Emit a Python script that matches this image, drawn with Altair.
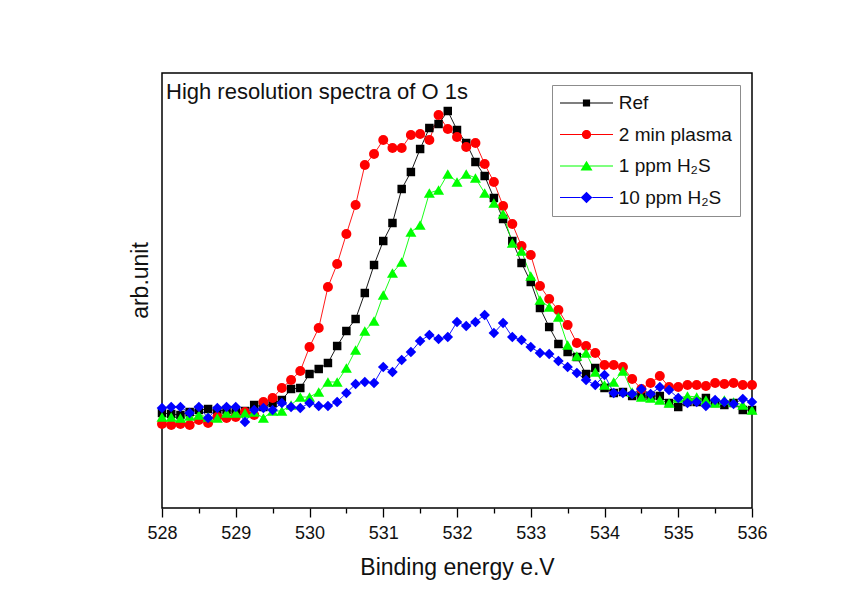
import altair as alt
import pandas as pd

# Binding energy grid (0.125 eV steps, 528-536 eV)
energy = [528 + 0.125 * i for i in range(65)]

ref = [95, 94, 93, 96, 98, 99, 97, 98, 96, 97,
       103, 101, 105, 108, 119, 120, 134, 139, 145, 162,
       177, 189, 215, 243, 267, 285, 319, 336, 359, 380,
       384, 397, 378, 365, 346, 332, 310, 289, 267, 245,
       226, 200, 181, 164, 156, 151, 134, 140, 120, 115,
       116, 112, 112, 112, 112, 105, 101, 106, 106, 110,
       105, 103, 105, 98, 98]

plasma = [84, 83, 84, 83, 88, 85, 91, 90, 91, 96,
          93, 106, 110, 120, 128, 137, 161, 180, 221, 244,
          274, 303, 343, 354, 368, 360, 360, 373, 374, 368,
          393, 379, 371, 361, 365, 344, 326, 302, 284, 262,
          253, 222, 209, 198, 183, 165, 162, 155, 143, 143,
          141, 129, 119, 125, 132, 121, 121, 123, 123, 122,
          125, 124, 125, 123, 123]

h2s_1ppm = [91, 91, 90, 92, 93, 91, 90, 95, 95, 95,
            96, 90, 97, 97, 103, 111, 111, 116, 126, 126,
            140, 158, 177, 187, 213, 235, 246, 276, 283, 315,
            318, 334, 326, 334, 330, 315, 305, 294, 265, 257,
            232, 208, 201, 191, 163, 152, 155, 136, 123, 126,
            137, 116, 111, 110, 108, 105, 110, 112, 111, 108,
            105, 108, 106, 103, 98]

h2s_10ppm = [100, 101, 101, 95, 101, 90, 100, 101, 101, 86,
             98, 100, 98, 105, 101, 100, 105, 102, 102, 106,
             115, 124, 126, 125, 141, 136, 148, 156, 167, 173,
             169, 171, 186, 182, 186, 193, 175, 185, 171, 168,
             161, 155, 154, 147, 141, 135, 128, 123, 133, 115,
             115, 114, 119, 114, 121, 118, 110, 105, 106, 102,
             108, 106, 104, 109, 106]

series_names = ["Ref", "2 min plasma", "1 ppm H\u2082S", "10 ppm H\u2082S"]
series_values = [ref, plasma, h2s_1ppm, h2s_10ppm]
colors = ["#000000", "#ff0000", "#00ff00", "#0000ff"]
shapes = ["square", "circle", "triangle-up", "diamond"]
marker_sizes = [72, 100, 121, 112]

x_ticks = [528, 529, 530, 531, 532, 533, 534, 535, 536]
x_minor_ticks = [528.5, 529.5, 530.5, 531.5, 532.5, 533.5, 534.5, 535.5]

# legend symbols: a line with the marker on it (unit = 10 px)
seg = "M-2.65,-0.05H{a}V0.05H-2.65Z M{b},-0.05H2.65V0.05H{b}Z "
legend_paths = [
    seg.format(a=-0.36, b=0.36) + "M-0.36,-0.36H0.36V0.36H-0.36Z",
    seg.format(a=-0.46, b=0.46) + "M-0.46,0A0.46,0.46 0 1,1 0.46,0A0.46,0.46 0 1,1 -0.46,0Z",
    seg.format(a=-0.3, b=0.3) + "M0,-0.52L0.6,0.45H-0.6Z",
    seg.format(a=-0.58, b=0.58) + "M0,-0.58L0.58,0L0,0.58L-0.58,0Z",
]

rows = []
for name, vals, col, shp, sz in zip(series_names, series_values, colors, shapes, marker_sizes):
    for e, v in zip(energy, vals):
        rows.append({"energy": e, "intensity": v, "series": name,
                     "hex": col, "shp": shp, "msize": sz})
df = pd.DataFrame(rows)
legend_df = pd.DataFrame({"series": series_names, "energy": [528.0] * 4})

FONT = "Liberation Sans"

x_scale = alt.Scale(domain=[528, 536], nice=False, zero=False)
y_scale = alt.Scale(domain=[0, 435], nice=False, zero=False)

x_main = alt.X(
    "energy:Q", scale=x_scale,
    axis=alt.Axis(values=x_ticks, format="d", tickSize=9, tickWidth=1.3,
                  tickColor="black", domain=False, grid=False,
                  labelFontSize=18, labelPadding=7, labelColor="#111111",
                  labelFont=FONT, labelFlush=False, orient="bottom",
                  title="Binding energy e.V", titleFontSize=23,
                  titleFontWeight="normal", titleFont=FONT, titleColor="#111111",
                  titleBaseline="alphabetic", titleY=66),
)
x_plain = alt.X("energy:Q", scale=x_scale, axis=None)
y_main = alt.Y(
    "intensity:Q", scale=y_scale,
    axis=alt.Axis(labels=False, ticks=False, domain=False, grid=False,
                  title="arb.unit", titleFontSize=23, titleFontWeight="normal",
                  titleFont=FONT, titleColor="#111111", titleAngle=-90,
                  titleBaseline="alphabetic", titleAlign="center",
                  titleX=-15, titleY=207),
)

base = alt.Chart(df)

lines = base.mark_line(strokeWidth=0.9).encode(
    x=x_main, y=y_main,
    color=alt.Color("hex:N", scale=None),
    detail="series:N",
    order="energy:Q",
)

points = base.mark_point(filled=True, opacity=1, strokeWidth=0).encode(
    x=x_plain, y=y_main,
    color=alt.Color("hex:N", scale=None),
    shape=alt.Shape("shp:N", scale=None),
    size=alt.Size("msize:Q", scale=None),
)

legend_layer = alt.Chart(legend_df).transform_filter("false").mark_point(filled=True).encode(
    x=alt.X("energy:Q", scale=x_scale,
            axis=alt.Axis(values=x_minor_ticks, tickSize=5, tickWidth=1.3,
                          tickColor="black", labels=False, domain=False,
                          grid=False, title=None, orient="bottom")),
    color=alt.Color("series:N", scale=alt.Scale(domain=series_names, range=colors),
                    legend=alt.Legend(title=None, orient="none", legendX=390, legendY=12,
                                      strokeColor="#8c8c8c", fillColor="white",
                                      padding=8, symbolSize=400, symbolStrokeWidth=0,
                                      symbolOffset=16.5, labelOffset=22.3,
                                      labelFontSize=19, labelFont=FONT,
                                      labelColor="#111111", rowPadding=11.5,
                                      labelLimit=0)),
    shape=alt.Shape("series:N", scale=alt.Scale(domain=series_names, range=legend_paths)),
)

chart = alt.layer(lines, points, legend_layer).resolve_axis(x="independent").properties(
    width=590, height=435,
    autosize=alt.AutoSizeParams(type="none"),
    padding={"left": 154, "top": 65, "right": 60, "bottom": 80},
    background="white",
    title=alt.TitleParams(text="High resolution spectra of O 1s", anchor="start",
                          frame="group", orient="top", offset=-48, dx=4,
                          fontSize=22, fontWeight="normal", font=FONT,
                          color="#111111", baseline="alphabetic"),
).configure_view(stroke="black", strokeWidth=1.5)

chart.save("out.html", embed_options={"renderer": "svg", "actions": False})
